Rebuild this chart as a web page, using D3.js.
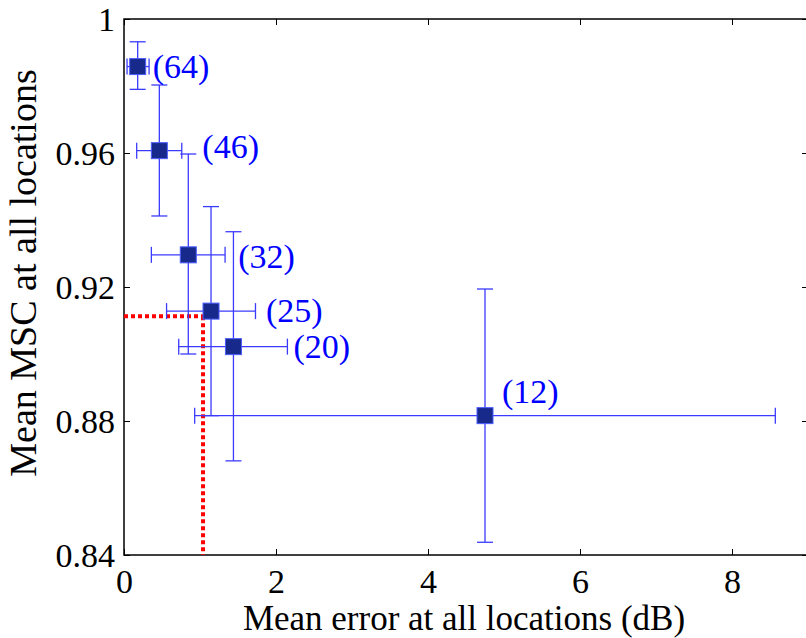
<!DOCTYPE html>
<html><head><meta charset="utf-8">
<script src="https://cdn.jsdelivr.net/npm/d3@7"></script>
<style>
html,body{margin:0;padding:0;background:#fff;}
svg{display:block;}
svg text{font-family:"Liberation Serif","Times New Roman",serif;}
</style></head>
<body>
<svg id="chart" width="806" height="638"></svg>
<script>
// ---- data ----
const labels   = ["(64)", "(46)", "(32)", "(25)", "(20)", "(12)"];
const meanErr  = [0.18, 0.465, 0.846, 1.145, 1.44, 4.75];
const errLo    = [0.04, 0.167, 0.36, 0.56, 0.72, 0.93];
const errHi    = [0.33, 0.76, 1.33, 1.73, 2.15, 8.57];
const meanMSC  = [0.9858, 0.9607, 0.9296, 0.9128, 0.9022, 0.8816];
const mscLo    = [0.979, 0.9412, 0.900, 0.8816, 0.8681, 0.8438];
const mscHi    = [0.9932, 0.9803, 0.9597, 0.944, 0.9365, 0.9194];
const refX     = 1.04;
const refY     = 0.9113;
const xTicks   = [0, 2, 4, 6, 8];
const yTicks   = [0.84, 0.88, 0.92, 0.96, 1];
const yTickLabels = ["0.84", "0.88", "0.92", "0.96", "1"];
const xTitle = "Mean error at all locations (dB)";
const yTitle = "Mean MSC at all locations";
// label offsets (pixels, relative to marker center) – layout only
const labelDX = [15, 43, 50, 55, 60, 17];
const labelDY = [11, 7, 13, 11, 11, -13];

// ---- layout ----
const FONT = "'Liberation Serif','Times New Roman',serif";
const svg = d3.select("#chart");
const L = 124, R = 808, T = 19, B = 555;
const x = d3.scaleLinear().domain([0, 9]).range([L, R]);
const y = d3.scaleLinear().domain([0.84, 1]).range([B, T]);
const barColor = "#3b3bff";
const fontSize = 34;

// frame
svg.append("rect").attr("x", L).attr("y", T).attr("width", R - L).attr("height", B - T)
  .attr("fill", "none").attr("stroke", "#000").attr("stroke-width", 1.5);

// axes with inward ticks
const tickLen = 6;
const gx = svg.append("g").attr("transform", `translate(0,${B})`)
  .call(d3.axisBottom(x).tickValues(xTicks).tickFormat(d3.format("d")).tickSizeInner(-tickLen).tickSizeOuter(0).tickPadding(14));
const gxt = svg.append("g").attr("transform", `translate(0,${T})`)
  .call(d3.axisTop(x).tickValues(xTicks).tickFormat("").tickSizeInner(-tickLen).tickSizeOuter(0));
const gy = svg.append("g").attr("transform", `translate(${L},0)`)
  .call(d3.axisLeft(y).tickValues(yTicks).tickFormat((d, i) => yTickLabels[i]).tickSizeInner(-tickLen).tickSizeOuter(0).tickPadding(9));
const gyr = svg.append("g").attr("transform", `translate(${R},0)`)
  .call(d3.axisRight(y).tickValues(yTicks).tickFormat("").tickSizeInner(-tickLen).tickSizeOuter(0));
[gx, gxt, gy, gyr].forEach(g => {
  g.attr("font-family", FONT).attr("font-size", fontSize);
  g.select(".domain").remove();
  g.selectAll("line").attr("stroke", "#000").attr("stroke-width", 1);
  g.selectAll("text").attr("fill", "#000");
});
gx.selectAll("text").attr("dy", "0.71em");
gy.selectAll("text").attr("dy", "0.35em");

// axis titles
svg.append("text").attr("x", 464).attr("y", 630).attr("text-anchor", "middle")
  .attr("font-family", FONT).attr("font-size", 35).text(xTitle);
svg.append("text").attr("transform", `translate(36,273) rotate(-90)`)
  .attr("text-anchor", "middle").attr("font-family", FONT).attr("font-size", 38).text(yTitle);

// red dotted reference lines
const red = svg.append("g").attr("stroke", "#ff0000").attr("stroke-width", 4)
  .attr("stroke-dasharray", "4,3").attr("fill", "none");
red.append("line").attr("x1", x(0)).attr("x2", x(refX)).attr("y1", y(refY)).attr("y2", y(refY));
red.append("line").attr("x1", x(refX)).attr("x2", x(refX)).attr("y1", y(refY)).attr("y2", y(0.84));

// error bars
const data = labels.map((l, i) => ({
  l, x: meanErr[i], xl: errLo[i], xh: errHi[i], y: meanMSC[i], yl: mscLo[i], yh: mscHi[i], dx: labelDX[i], dy: labelDY[i]
}));
const cap = 8;
const eb = svg.append("g").attr("stroke", barColor).attr("stroke-width", 1.3).attr("fill", "none");
data.forEach(d => {
  eb.append("line").attr("x1", x(d.x)).attr("x2", x(d.x)).attr("y1", y(d.yl)).attr("y2", y(d.yh));
  eb.append("line").attr("x1", x(d.x) - cap).attr("x2", x(d.x) + cap).attr("y1", y(d.yl)).attr("y2", y(d.yl));
  eb.append("line").attr("x1", x(d.x) - cap).attr("x2", x(d.x) + cap).attr("y1", y(d.yh)).attr("y2", y(d.yh));
  eb.append("line").attr("x1", x(d.xl)).attr("x2", x(d.xh)).attr("y1", y(d.y)).attr("y2", y(d.y));
  eb.append("line").attr("x1", x(d.xl)).attr("x2", x(d.xl)).attr("y1", y(d.y) - cap).attr("y2", y(d.y) + cap);
  eb.append("line").attr("x1", x(d.xh)).attr("x2", x(d.xh)).attr("y1", y(d.y) - cap).attr("y2", y(d.y) + cap);
});

// markers
const ms = 16;
svg.append("g").selectAll("rect").data(data).join("rect")
  .attr("x", d => x(d.x) - ms / 2).attr("y", d => y(d.y) - ms / 2)
  .attr("width", ms).attr("height", ms)
  .attr("fill", "#17298a").attr("stroke", "#4a5cff").attr("stroke-width", 1);

// labels
svg.append("g").selectAll("text").data(data).join("text")
  .attr("x", d => x(d.x) + d.dx).attr("y", d => y(d.y) + d.dy)
  .attr("fill", "#0000ff").attr("font-family", FONT).attr("font-size", fontSize).text(d => d.l);
</script>
</body></html>
